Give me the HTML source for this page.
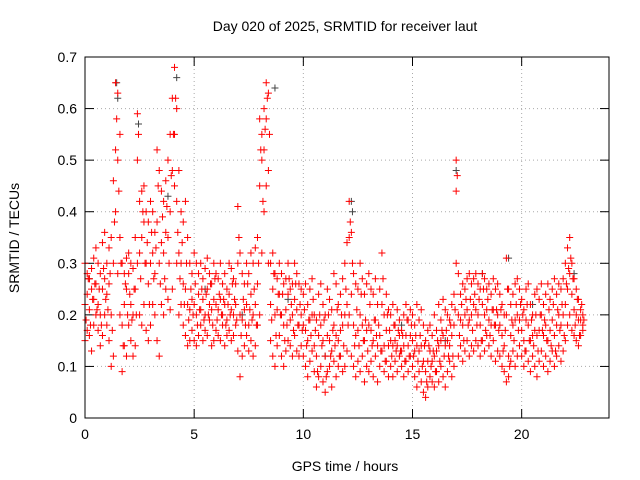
<!DOCTYPE html>
<html><head><meta charset="utf-8"><style>
body{margin:0;background:#fff}
svg{display:block;font-family:"Liberation Sans",sans-serif}
</style></head><body>
<svg id="c" width="640" height="480">
<text x="345" y="31" font-size="14" text-anchor="middle">Day 020 of 2025, SRMTID for receiver laut</text>
<text x="345" y="471" font-size="14" text-anchor="middle">GPS time / hours</text>
<text transform="translate(19,238) rotate(-90)" font-size="14" text-anchor="middle">SRMTID / TECUs</text>
<g id="grid"></g>
<g id="ticks"></g>
<g id="grey"></g>
<g id="red"></g>
<rect x="85" y="57" width="524" height="361" fill="none" stroke="#000"/>
</svg>
<script>
const xTicks=[0,5,10,15,20];
const yTicks=[0,0.1,0.2,0.3,0.4,0.5,0.6,0.7];
const yTickLabels=["0","0.1","0.2","0.3","0.4","0.5","0.6","0.7"];
const tStep=0.1;
const hi=[.30,.28,.27,.29,.31,.33,.30,.28,.34,.36,.30,.33,.35,.46,.65,.63,.55,.30,.28,.31,.32,.30,.29,.35,.59,.42,.44,.45,.40,.38,.42,.40,.36,.52,.48,.44,.42,.46,.50,.55,.62,.68,.60,.48,.40,.38,.42,.35,.30,.28,.32,.30,.28,.30,.27,.29,.31,.28,.26,.30,.28,.27,.30,.26,.28,.25,.30,.29,.27,.26,.41,.32,.28,.26,.30,.28,.32,.30,.33,.35,.58,.55,.60,.65,.63,.30,.32,.28,.27,.30,.28,.26,.27,.30,.25,.26,.30,.28,.26,.25,.24,.26,.22,.25,.27,.20,.19,.24,.26,.22,.20,.25,.23,.21,.28,.26,.22,.24,.27,.30,.34,.42,.36,.28,.26,.25,.30,.27,.24,.26,.28,.25,.24,.27,.22,.25,.32,.20,.24,.21,.20,.22,.18,.21,.19,.17,.20,.22,.19,.21,.20,.18,.22,.19,.21,.18,.15,.17,.18,.16,.20,.17,.22,.19,.23,.21,.20,.19,.22,.24,.50,.28,.24,.26,.25,.27,.28,.26,.27,.28,.26,.25,.28,.27,.25,.26,.24,.27,.25,.26,.24,.22,.20,.31,.25,.22,.24,.26,.27,.25,.23,.21,.25,.26,.22,.20,.24,.25,.23,.26,.22,.24,.26,.23,.25,.27,.24,.26,.25,.27,.30,.33,.35,.30,.27,.25,.23,.21,.20];
const mid=[.22,.24,.21,.25,.23,.26,.22,.20,.25,.27,.24,.26,.20,.30,.52,.50,.35,.18,.22,.25,.28,.22,.20,.25,.50,.32,.35,.38,.30,.26,.30,.32,.28,.38,.30,.34,.32,.36,.35,.40,.48,.55,.42,.32,.30,.26,.25,.22,.21,.23,.22,.20,.24,.21,.23,.20,.25,.22,.21,.23,.22,.21,.23,.20,.22,.19,.24,.21,.20,.22,.30,.20,.19,.21,.22,.18,.24,.20,.22,.26,.45,.50,.52,.58,.48,.22,.25,.20,.21,.24,.20,.18,.21,.24,.19,.20,.23,.21,.18,.20,.18,.17,.15,.19,.20,.14,.12,.16,.18,.15,.12,.16,.15,.13,.18,.16,.15,.17,.18,.20,.22,.35,.24,.18,.16,.17,.20,.18,.15,.17,.18,.17,.15,.19,.14,.16,.22,.14,.17,.14,.15,.14,.15,.14,.16,.13,.14,.16,.14,.16,.15,.13,.14,.13,.14,.11,.09,.11,.13,.11,.12,.13,.14,.15,.16,.14,.15,.14,.16,.18,.44,.20,.19,.18,.20,.21,.19,.20,.22,.21,.20,.18,.22,.20,.21,.19,.18,.21,.18,.20,.18,.16,.14,.20,.12,.16,.18,.19,.20,.19,.17,.15,.19,.18,.15,.16,.17,.16,.17,.20,.16,.18,.15,.17,.19,.16,.18,.20,.18,.20,.22,.25,.28,.24,.21,.20,.19,.19,.18];
const mid2=[.19,.27,.18,.23,.26,.21,.25,.18,.29,.23,.21,.28,.17,.38,.58,.44,.30,.14,.26,.20,.24,.19,.25,.20,.55,.27,.40,.30,.34,.22,.36,.27,.33,.45,.26,.39,.27,.41,.30,.47,.55,.62,.36,.27,.34,.22,.30,.19,.25,.20,.26,.18,.21,.25,.19,.24,.20,.26,.18,.27,.19,.24,.20,.23,.18,.22,.20,.26,.23,.19,.35,.16,.23,.18,.26,.21,.19,.25,.18,.30,.52,.42,.56,.62,.55,.19,.28,.16,.24,.20,.24,.15,.18,.27,.22,.17,.26,.18,.22,.17,.21,.14,.19,.16,.23,.17,.09,.20,.14,.19,.08,.20,.12,.17,.14,.21,.12,.20,.14,.25,.18,.38,.30,.14,.21,.14,.24,.15,.19,.13,.22,.14,.19,.16,.18,.13,.27,.11,.20,.17,.12,.18,.13,.17,.13,.16,.11,.19,.12,.18,.12,.16,.11,.16,.10,.14,.07,.14,.10,.13,.09,.15,.11,.17,.12,.17,.12,.18,.12,.21,.47,.16,.22,.15,.23,.18,.23,.17,.24,.18,.23,.15,.25,.17,.23,.16,.21,.18,.21,.17,.21,.13,.17,.25,.10,.19,.15,.22,.17,.22,.20,.13,.22,.15,.19,.14,.20,.13,.20,.17,.19,.15,.21,.14,.22,.13,.21,.17,.22,.16,.26,.29,.31,.27,.18,.23,.16,.22,.19];
const lo=[.15,.17,.16,.13,.18,.20,.17,.14,.16,.20,.18,.15,.10,.12,.40,.28,.20,.09,.14,.12,.18,.15,.12,.14,.30,.20,.18,.22,.17,.15,.18,.22,.20,.15,.12,.22,.20,.25,.23,.21,.25,.45,.30,.20,.22,.18,.16,.14,.15,.17,.15,.14,.16,.18,.15,.17,.16,.19,.14,.15,.17,.16,.15,.18,.14,.16,.17,.15,.16,.18,.13,.08,.12,.14,.16,.13,.15,.12,.14,.18,.20,.32,.40,.45,.30,.15,.12,.10,.14,.16,.12,.10,.13,.15,.14,.12,.16,.13,.12,.14,.12,.10,.08,.11,.13,.09,.06,.08,.10,.07,.05,.09,.10,.06,.11,.08,.10,.12,.09,.10,.13,.20,.12,.10,.08,.11,.09,.12,.07,.10,.09,.11,.08,.12,.07,.10,.13,.09,.11,.08,.10,.08,.11,.09,.12,.10,.08,.11,.09,.12,.10,.08,.06,.09,.07,.05,.04,.06,.08,.07,.06,.09,.07,.10,.08,.06,.09,.11,.08,.10,.30,.12,.14,.11,.13,.15,.12,.14,.13,.15,.14,.12,.15,.13,.16,.14,.12,.15,.11,.13,.12,.10,.09,.07,.08,.11,.13,.10,.12,.14,.12,.10,.13,.11,.09,.12,.10,.08,.11,.13,.10,.12,.09,.11,.13,.10,.12,.14,.11,.13,.15,.18,.20,.17,.16,.15,.14,.16,.17];
const greyT=[1.45,1.5,2.45,4.2,8.7,12.2,12.25,17,19.4,3.8,0.2,5.5,9.3,14.5,16.5,18.2,20.5,22.4,11,7.2];
const greyV=[.65,.62,.57,.66,.64,.42,.40,.48,.31,.43,.27,.25,.23,.18,.15,.28,.22,.28,.12,.20];

const X=t=>85+t*(524/24);
const Y=v=>418-v*(361/0.7);
const NS="http://www.w3.org/2000/svg";
function mk(tag,attrs,parent){const e=document.createElementNS(NS,tag);for(const k in attrs)e.setAttribute(k,attrs[k]);parent.appendChild(e);return e;}
const grid=document.getElementById('grid'),ticks=document.getElementById('ticks');
xTicks.forEach((t,i)=>{
  const x=X(t);
  if(t>0){const g=mk('line',{x1:x,x2:x,y1:57,y2:418,stroke:'#aaa','stroke-dasharray':'1,3'},grid);
  
  }
  mk('line',{x1:x,x2:x,y1:418,y2:409,stroke:'#000'},ticks);
  mk('line',{x1:x,x2:x,y1:57,y2:66,stroke:'#000'},ticks);
  const l=mk('text',{x:x,y:439,'font-size':14,'text-anchor':'middle'},ticks);l.textContent=t;
  
  
});
yTicks.forEach((v,i)=>{
  const y=Y(v);
  if(v>0&&v<0.7){const g=mk('line',{x1:85,x2:609,y1:y,y2:y,stroke:'#aaa','stroke-dasharray':'1,3'},grid);
  
  }
  mk('line',{x1:85,x2:94,y1:y,y2:y,stroke:'#000'},ticks);
  mk('line',{x1:609,x2:600,y1:y,y2:y,stroke:'#000'},ticks);
  const l=mk('text',{x:77,y:y+5,'font-size':14,'text-anchor':'end'},ticks);l.textContent=yTickLabels[i];
  
  
});
function plus(parent,t,v,col,name){
  const x=X(t),y=Y(v);
  const p=mk('path',{d:`M${x-3.5},${y}h7M${x},${y-3.5}v7`,stroke:col,'stroke-width':1,fill:'none'},parent);
  
  
}
const grey=document.getElementById('grey'),red=document.getElementById('red');
greyT.forEach((t,i)=>plus(grey,t,greyV[i],'#444','grey-point'));
[hi,mid,lo].forEach(arr=>arr.forEach((v,i)=>plus(red,i*tStep,v,'#f00','red-point')));
mid2.forEach((v,i)=>plus(red,i*tStep+0.05,v,'#f00','red-point'));
</script>
</body></html>
